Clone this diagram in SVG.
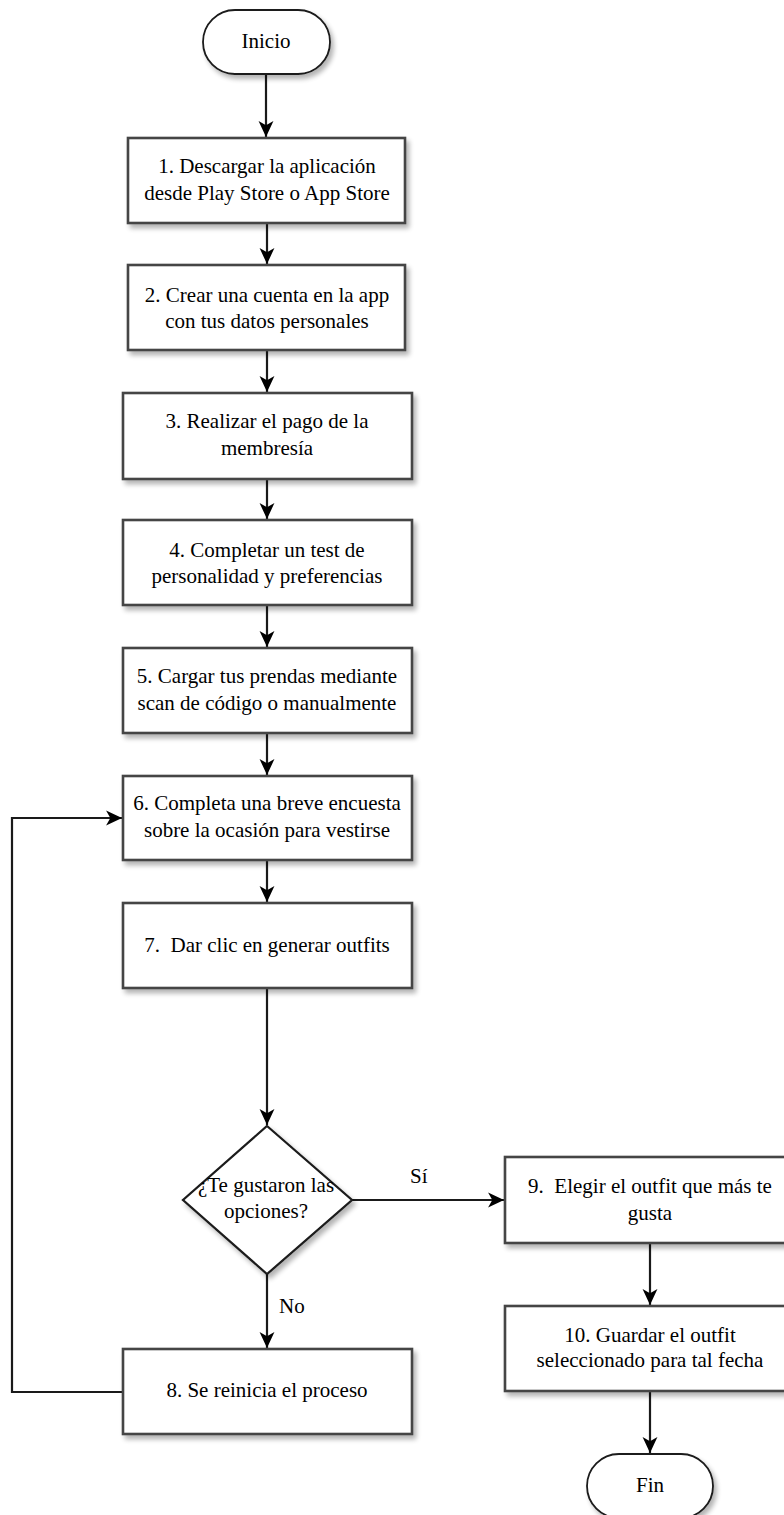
<svg xmlns="http://www.w3.org/2000/svg" width="784" height="1515" viewBox="0 0 784 1515">
  <style>
    .shape { fill: #ffffff; stroke: #444444; stroke-width: 2.6; filter: url(#shadow); }
    .term { fill: #ffffff; stroke: #1a1a1a; stroke-width: 1.8; filter: url(#shadow); }
    .dec { fill: #ffffff; stroke: #1a1a1a; stroke-width: 2.2; filter: url(#shadow); }
    .lbl { font-family: "Liberation Serif", "DejaVu Serif", serif; font-size: 21px; fill: #000; text-anchor: middle; white-space: pre; }
    .edge-lbl { font-family: "Liberation Serif", "DejaVu Serif", serif; font-size: 21px; fill: #000; }
    .conn { fill: none; stroke: #1a1a1a; stroke-width: 2.2; }
  </style>
  <defs>
    <filter id="shadow" x="-10%" y="-10%" width="125%" height="135%">
      <feGaussianBlur in="SourceAlpha" stdDeviation="2.5"/>
      <feOffset dx="3" dy="4" result="blur"/>
      <feComponentTransfer><feFuncA type="linear" slope="0.3"/></feComponentTransfer>
      <feMerge><feMergeNode/><feMergeNode in="SourceGraphic"/></feMerge>
    </filter>
    <marker id="arrow" viewBox="0 0 16 16" refX="15" refY="8" markerWidth="17" markerHeight="17" markerUnits="userSpaceOnUse" orient="auto">
      <path d="M0,1 L15,8 L0,15 L4,8 Z" fill="#000"/>
    </marker>
  </defs>

  <rect width="784" height="1515" fill="#ffffff"/>

  <!-- connectors -->
  <g id="connectors">
    <path class="conn" d="M266,74 V137" marker-end="url(#arrow)"/>
    <path class="conn" d="M267,223 V264" marker-end="url(#arrow)"/>
    <path class="conn" d="M267,350 V392" marker-end="url(#arrow)"/>
    <path class="conn" d="M267,479 V519" marker-end="url(#arrow)"/>
    <path class="conn" d="M267,605 V647" marker-end="url(#arrow)"/>
    <path class="conn" d="M267,733 V775" marker-end="url(#arrow)"/>
    <path class="conn" d="M267,860 V902" marker-end="url(#arrow)"/>
    <path class="conn" d="M267,988 V1125" marker-end="url(#arrow)"/>
    <path class="conn" d="M352,1200 H504" marker-end="url(#arrow)"/>
    <path class="conn" d="M267,1274 V1348" marker-end="url(#arrow)"/>
    <path class="conn" d="M650,1243 V1305" marker-end="url(#arrow)"/>
    <path class="conn" d="M650,1391 V1453" marker-end="url(#arrow)"/>
    <path class="conn" d="M123,1392 H12 V818 H122" marker-end="url(#arrow)"/>
    <text class="edge-lbl" x="410" y="1183">Sí</text>
    <text class="edge-lbl" x="279" y="1313">No</text>
  </g>

  <g id="inicio">
    <rect class="term" x="203" y="10" width="127" height="64" rx="32" ry="32"/>
    <text class="lbl" x="266" y="48">Inicio</text>
  </g>

  <g id="paso1">
    <rect class="shape" x="128" y="138" width="277" height="85"/>
    <text class="lbl" x="267" y="173">1. Descargar la aplicación</text>
    <text class="lbl" x="267" y="200">desde Play Store o App Store</text>
  </g>

  <g id="paso2">
    <rect class="shape" x="128" y="265" width="277" height="85"/>
    <text class="lbl" x="267" y="302">2. Crear una cuenta en la app</text>
    <text class="lbl" x="267" y="328">con tus datos personales</text>
  </g>

  <g id="paso3">
    <rect class="shape" x="123" y="393" width="289" height="86"/>
    <text class="lbl" x="267" y="428">3. Realizar el pago de la</text>
    <text class="lbl" x="267" y="455">membresía</text>
  </g>

  <g id="paso4">
    <rect class="shape" x="123" y="520" width="289" height="85"/>
    <text class="lbl" x="267" y="557">4. Completar un test de</text>
    <text class="lbl" x="267" y="583">personalidad y preferencias</text>
  </g>

  <g id="paso5">
    <rect class="shape" x="123" y="648" width="289" height="85"/>
    <text class="lbl" x="267" y="683">5. Cargar tus prendas mediante</text>
    <text class="lbl" x="267" y="710">scan de código o manualmente</text>
  </g>

  <g id="paso6">
    <rect class="shape" x="123" y="776" width="289" height="84"/>
    <text class="lbl" x="267" y="810">6. Completa una breve encuesta</text>
    <text class="lbl" x="267" y="837">sobre la ocasión para vestirse</text>
  </g>

  <g id="paso7">
    <rect class="shape" x="123" y="903" width="289" height="85"/>
    <text class="lbl" x="267" y="952">7.  Dar clic en generar outfits</text>
  </g>

  <g id="decision">
    <path class="dec" d="M267,1126 L352,1200 L267,1274 L183,1200 Z"/>
    <text class="lbl" x="266" y="1192">¿Te gustaron las</text>
    <text class="lbl" x="266" y="1218">opciones?</text>
  </g>

  <g id="paso8">
    <rect class="shape" x="123" y="1349" width="289" height="85"/>
    <text class="lbl" x="267" y="1397">8. Se reinicia el proceso</text>
  </g>

  <g id="paso9">
    <rect class="shape" x="505" y="1157" width="289" height="86"/>
    <text class="lbl" x="650" y="1193">9.  Elegir el outfit que más te</text>
    <text class="lbl" x="650" y="1220">gusta</text>
  </g>

  <g id="paso10">
    <rect class="shape" x="505" y="1306" width="289" height="85"/>
    <text class="lbl" x="650" y="1342">10. Guardar el outfit</text>
    <text class="lbl" x="650" y="1367">seleccionado para tal fecha</text>
  </g>

  <g id="fin">
    <rect class="term" x="587" y="1454" width="126" height="64" rx="32" ry="32"/>
    <text class="lbl" x="650" y="1492">Fin</text>
  </g>
</svg>
